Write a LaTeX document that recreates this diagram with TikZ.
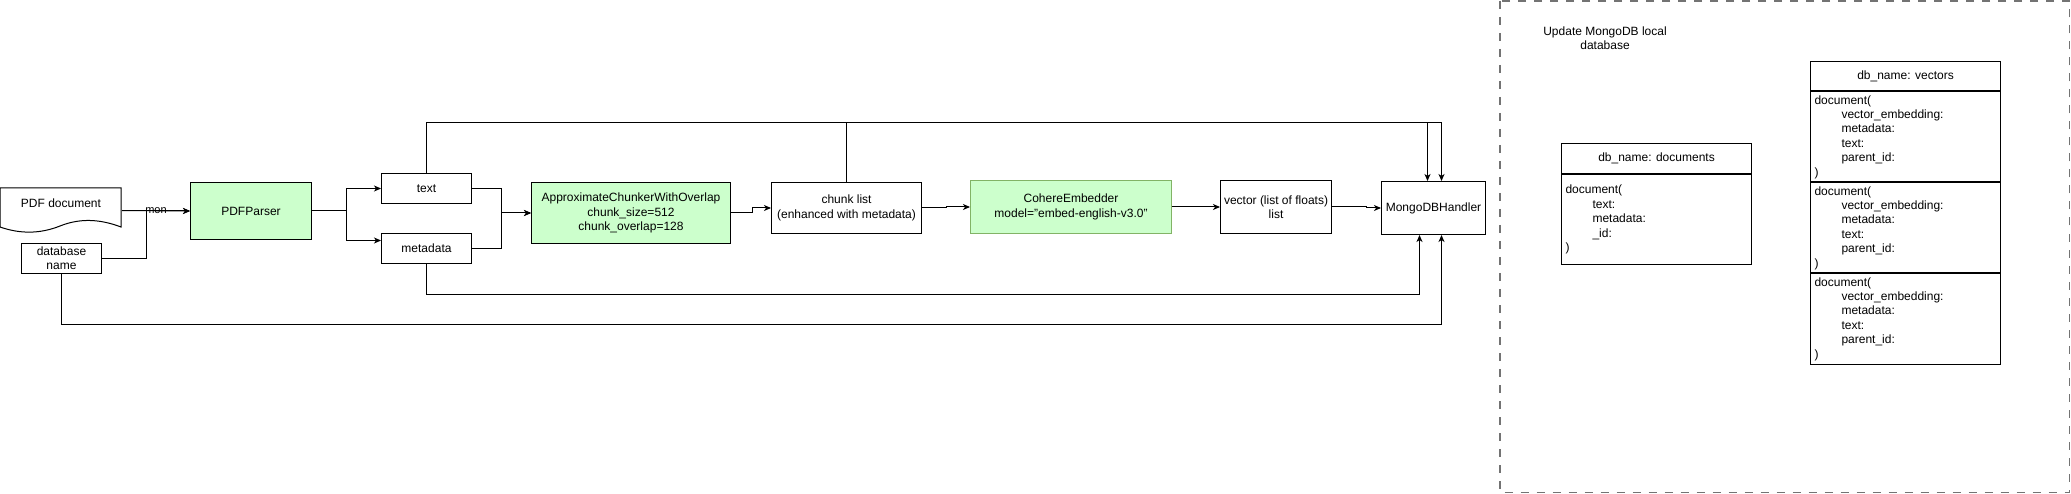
\documentclass[tikz,border=0pt]{standalone}
\usepackage{fontspec}
\setmainfont{Liberation Sans}
\usetikzlibrary{arrows.meta}

\definecolor{stepgreen}{HTML}{CCFFCC}
\definecolor{greenline}{HTML}{82B366}
\newcommand{\fieldind}{\hspace*{27pt}}

\tikzset{
	box/.style={draw, rectangle, anchor=north west, inner sep=0pt, align=center},
	greenbox/.style={box, fill=stepgreen},
	tblhead/.style={draw, rectangle, anchor=north west, minimum width=190pt, inner sep=0pt},
	tblbody/.style={draw, rectangle, anchor=north west, minimum width=190pt, text width=182pt, inner xsep=4pt, inner ysep=0pt, align=left},
}

\begin{document}
\begin{tikzpicture}[x=1pt, y=-1pt, line width=1pt, >={Stealth[length=7pt,width=6pt,inset=2pt]},
	every node/.style={font=\fontsize{12}{14.4}\selectfont}]
		\useasboundingbox (0,0) rectangle (2071,494);
		
		% input side
		\node[anchor=north west, minimum width=121pt, inner sep=0pt, text height=19pt, text depth=25pt] (pdfdoc) at (0,188) {PDF document};
		\draw (0,227) -- (0,188) -- (121,188) -- (121,227) .. controls (100,219) and (80,218) .. (60,226) .. controls (40,234) and (20,234) .. (0,227);
		\node[box, minimum width=80pt, minimum height=30pt] (dbname) at (21,243) {database\\name};
		\node[greenbox, minimum width=121pt, minimum height=57pt] (parser) at (190,182) {PDFParser};
		
		\node[box, minimum width=90pt, minimum height=30pt] (text) at (381,173) {text};
		\node[box, minimum width=90pt, minimum height=30pt] (meta) at (381,233) {metadata};
		
		\node[greenbox, minimum width=199pt, minimum height=61pt] (chunker) at (531,182) {ApproximateChunkerWithOverlap\\chunk\_size=512\\chunk\_overlap=128};
		\node[box, minimum width=150pt, minimum height=51pt] (chunk) at (771,182) {chunk list\\(enhanced with metadata)};
		\node[greenbox, draw=greenline, minimum width=201pt, minimum height=53pt] (cohere) at (970,180) {CohereEmbedder\\model="embed-english-v3.0"};
		\node[box, minimum width=111pt, minimum height=53pt] (vector) at (1220,180) {vector (list of floats)\\list};
		\node[box, minimum width=104pt, minimum height=53pt] (mongo) at (1381,181) {MongoDBHandler};
		
		% connectors
		\draw[->] (pdfdoc.east) -- node[midway, font=\fontsize{11}{13}\selectfont] {mon} (parser.west);
		\draw[->] (dbname.east) -- ++(44,0) |- (parser.west);
		\draw[->] (parser.east) -- ++(34,0) |- (text.west);
		\draw[->] (parser.east) -- ++(34,0) |- ([yshift=8pt]meta.west);
		\draw[->] (text.east) -- ++(29,0) |- (chunker.west);
		\draw[->] (meta.east) -- ++(29,0) |- (chunker.west);
		\draw[->] (chunker.east) -- ++(21,0) |- (chunk.west);
		\draw[->] (chunk.east) -- ++(24,0) |- (cohere.west);
		\draw[->] (cohere.east) -- (vector.west);
		\draw[->] (vector.east) -- ++(34,0) |- (mongo.west);
		\draw[->] (text.north) -- ++(0,-50) -| ([xshift=8pt]mongo.north);
		\draw[->] (chunk.north) -- ++(0,-59) -| ([xshift=-6pt]mongo.north);
		\draw[->] (meta.south) -- ++(0,30) -| ([xshift=-14pt]mongo.south);
		\draw[->] (dbname.south) -- ++(0,50) -| ([xshift=8pt]mongo.south);
		
		% local database
		\draw[dashed, black!55, line width=1.2pt, dash pattern=on 8pt off 8pt] (1500,1) rectangle (2069.5,492.5);
		\node[align=center] (dbtitle) at (1605,38) {Update MongoDB local\\database};
		
		\node[tblhead, minimum height=30pt] (dochead) at (1561,143) {db\_name: documents};
		\node[tblbody, minimum height=90pt] (docbody) at (dochead.south west) {document(\\\fieldind text:\\\fieldind metadata:\\\fieldind \_id:\\)};
		
		\node[tblhead, minimum height=29.5pt] (vechead) at (1810,61) {db\_name: vectors};
		\node[tblbody, minimum height=90pt] (vec1) at (vechead.south west) {document(\\\fieldind vector\_embedding:\\\fieldind metadata:\\\fieldind text:\\\fieldind parent\_id:\\)};
		\node[tblbody, minimum height=90pt] (vec2) at (vec1.south west) {document(\\\fieldind vector\_embedding:\\\fieldind metadata:\\\fieldind text:\\\fieldind parent\_id:\\)};
		\node[tblbody, minimum height=90pt] (vec3) at (vec2.south west) {document(\\\fieldind vector\_embedding:\\\fieldind metadata:\\\fieldind text:\\\fieldind parent\_id:\\)};
	
	\end{tikzpicture}
\end{document}
